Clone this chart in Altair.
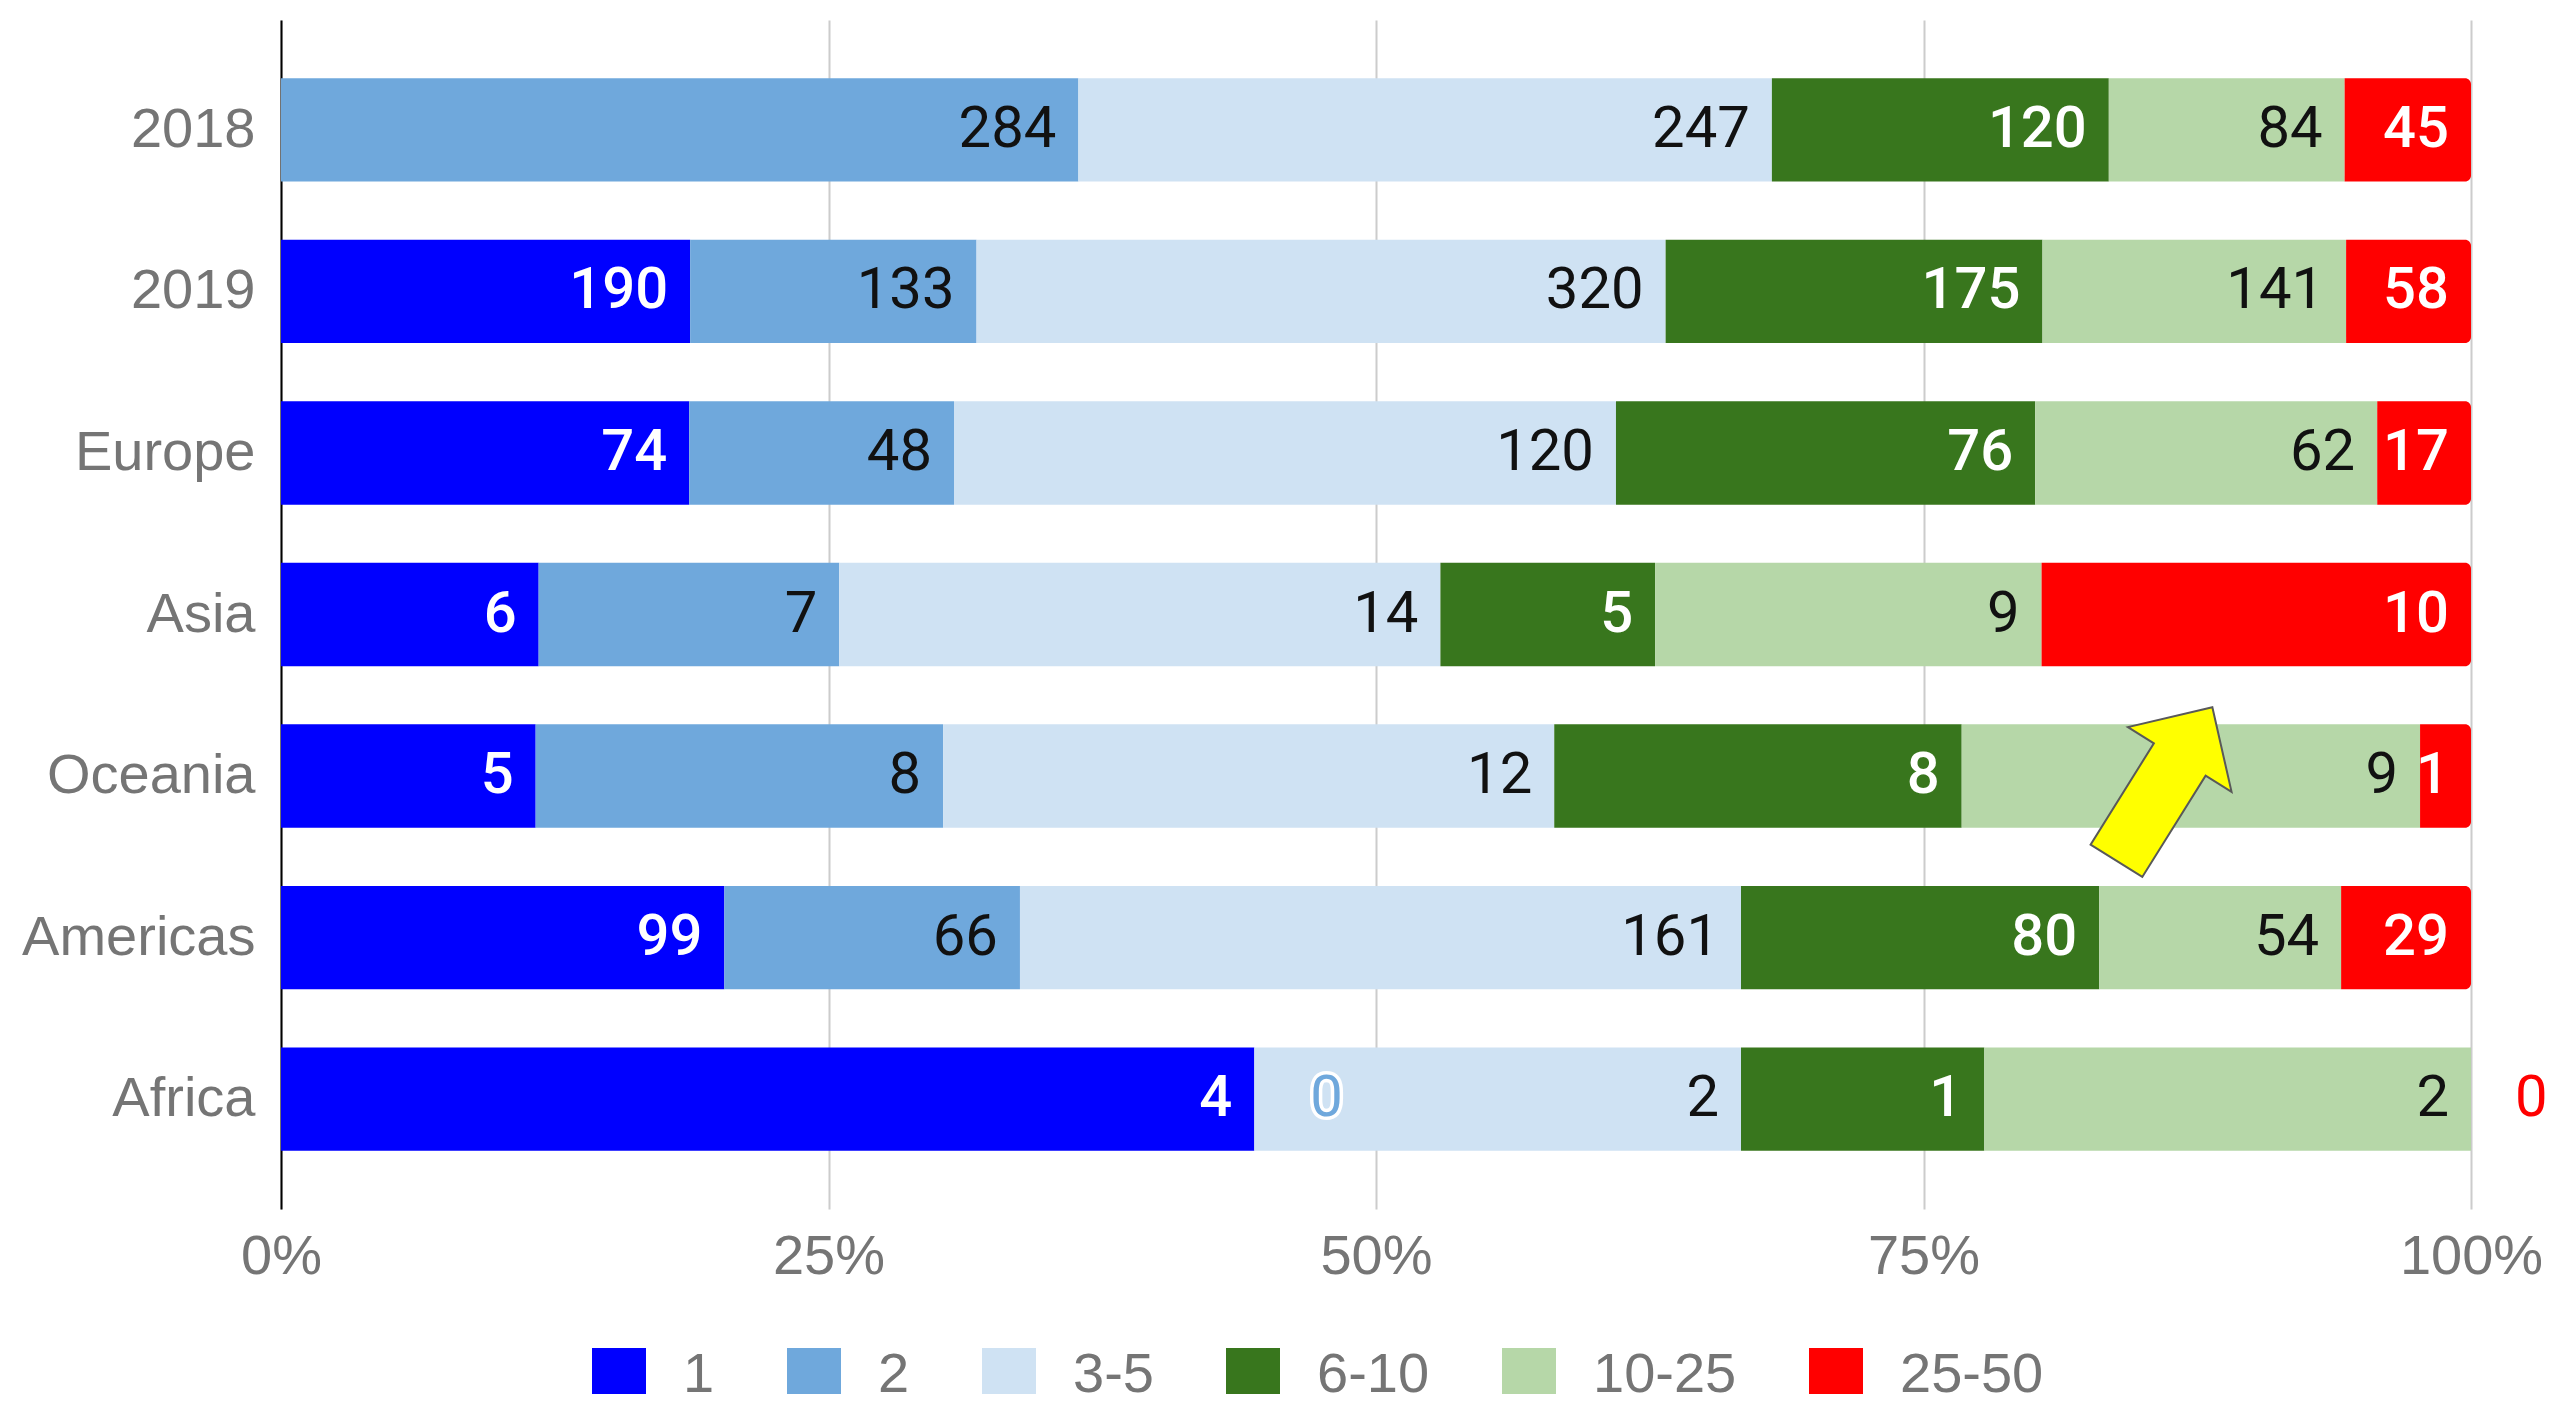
import altair as alt
import pandas as pd

regions = ["2018", "2019", "Europe", "Asia", "Oceania", "Americas", "Africa"]
categories = ["1", "2", "3-5", "6-10", "10-25", "25-50"]
colors = ["#0000ff", "#6fa8dc", "#cfe2f3", "#38761d", "#b6d7a8", "#ff0000"]

v_1 = [None, 190, 74, 6, 5, 99, 4]
v_2 = [284, 133, 48, 7, 8, 66, 0]
v_3_5 = [247, 320, 120, 14, 12, 161, 2]
v_6_10 = [120, 175, 76, 5, 8, 80, 1]
v_10_25 = [84, 141, 62, 9, 9, 54, 2]
v_25_50 = [45, 58, 17, 10, 1, 29, 0]

white_label_cats = ["1", "6-10", "25-50"]

arrow_x = [0.86]
arrow_y = ["Oceania"]

series = [v_1, v_2, v_3_5, v_6_10, v_10_25, v_25_50]
rows = []
for ci, (cat, vals) in enumerate(zip(categories, series)):
    for r, v in zip(regions, vals):
        rows.append({"region": r, "category": cat, "order": ci, "value": v,
                     "dark": cat in white_label_cats})
df = pd.DataFrame(rows)

AXIS_FONT = "Liberation Sans"
LABEL_FONT = "Roboto"
GREY = "#757575"

y_enc = alt.Y(
    "region:N",
    sort=regions,
    scale=alt.Scale(paddingInner=0.36, paddingOuter=0.36),
    axis=alt.Axis(
        title=None, ticks=False, domain=True, domainColor="#000000", domainWidth=2,
        labelFont=AXIS_FONT, labelFontSize=56, labelColor=GREY, labelPadding=26, grid=False,
        labelLimit=0,
    ),
)
x_scale = alt.Scale(domain=[0, 1])
x_axis = alt.Axis(
    title=None, format="%", values=[0, 0.25, 0.5, 0.75, 1], grid=True, gridColor="#cccccc",
    gridWidth=2, domain=False, ticks=False, labelPadding=20, labelFont=AXIS_FONT,
    labelFontSize=56, labelColor=GREY, labelFlush=False,
)
color_enc = alt.Color(
    "category:N",
    scale=alt.Scale(domain=categories, range=colors),
    legend=alt.Legend(
        title=None, orient="none", direction="horizontal", legendX=310, legendY=1327,
        symbolType="square", symbolSize=2916, symbolStrokeWidth=0, symbolOpacity=1,
        labelFont=AXIS_FONT, labelFontSize=56, labelColor=GREY, labelOffset=36,
        columnPadding=71, padding=0, labelLimit=0,
    ),
)

base = (
    alt.Chart(df)
    .transform_filter("isValid(datum.value)")
    .transform_stack(
        stack="value", groupby=["region"], as_=["x0", "x1"],
        sort=[alt.SortField("order", "ascending")], offset="normalize",
    )
)

bars = base.transform_filter("datum.category != '25-50'").mark_bar().encode(
    y=y_enc, x=alt.X("x0:Q", scale=x_scale, axis=x_axis), x2="x1:Q", color=color_enc
)
bars_end = base.transform_filter("datum.category == '25-50'").mark_bar(
    cornerRadiusTopRight=6, cornerRadiusBottomRight=6
).encode(y=y_enc, x=alt.X("x0:Q", scale=x_scale, axis=x_axis), x2="x1:Q", color=color_enc)

labels_dark = base.transform_filter("datum.value > 0 && !datum.dark").mark_text(
    align="right", baseline="middle", dx=-22, font=LABEL_FONT, fontSize=58, color="#111111"
).encode(y=y_enc, x=alt.X("x1:Q", scale=x_scale), text="value:Q")

labels_white = base.transform_filter("datum.value > 0 && datum.dark").mark_text(
    align="right", baseline="middle", dx=-22, font=LABEL_FONT, fontSize=58,
    fontWeight=500, color="#ffffff"
).encode(y=y_enc, x=alt.X("x1:Q", scale=x_scale), text="value:Q")


def zero_layers(filter_expr, dx):
    z = base.transform_filter(filter_expr)
    halo = z.mark_text(
        align="left", baseline="middle", dx=dx, font=LABEL_FONT, fontSize=58,
        stroke="#ffffff", strokeWidth=7, fill="#ffffff",
    ).encode(y=y_enc, x=alt.X("x1:Q", scale=x_scale), text="value:Q")
    lab = z.mark_text(
        align="left", baseline="middle", dx=dx, font=LABEL_FONT, fontSize=58
    ).encode(y=y_enc, x=alt.X("x1:Q", scale=x_scale), text="value:Q", color=color_enc)
    return [halo, lab]


zeros_inner = zero_layers("datum.value == 0 && datum.category != '25-50'", 56)
zeros_end = zero_layers("datum.value == 0 && datum.category == '25-50'", 44)

arrow_df = pd.DataFrame({"x1": arrow_x, "region": arrow_y})
arrow_path = "M0,-1 L0.675,-0.32 L0.337,-0.32 L0.337,1 L-0.337,1 L-0.337,-0.32 L-0.675,-0.32 Z"
arrow = alt.Chart(arrow_df).mark_point(
    shape=arrow_path, size=32761, angle=32, fill="#ffff00", fillOpacity=1,
    stroke="#595959", strokeWidth=2, opacity=1, yOffset=8,
).encode(x=alt.X("x1:Q", scale=x_scale), y=y_enc)

chart = (
    alt.layer(bars, bars_end, labels_dark, labels_white, *zeros_inner, *zeros_end, arrow)
    .properties(
        width=2190, height=1189,
        padding={"left": 273, "top": 12, "right": 83, "bottom": 185},
        autosize=alt.AutoSizeParams(type="none"),
        background="#ffffff",
    )
    .configure_view(stroke=None)
)

chart.save("out.html", embed_options={"renderer": "svg", "actions": False})
